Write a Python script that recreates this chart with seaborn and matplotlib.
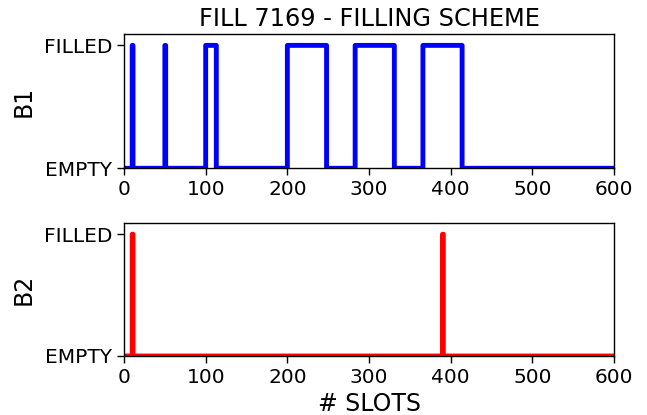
import numpy as np
import matplotlib
matplotlib.use("Agg")
import matplotlib.pyplot as plt
import seaborn as sns

# filling scheme: train start slot and number of bunches
N_SLOTS = 600
B1_TRAIN_START = [10, 50, 100, 200, 283, 366]
B1_TRAIN_LEN = [1, 1, 13, 48, 48, 48]
B2_TRAIN_START = [10, 390]
B2_TRAIN_LEN = [1, 1]

X_TICKS = [0, 100, 200, 300, 400, 500, 600]
Y_TICKS = [0, 1]
Y_LABELS = ["EMPTY", "FILLED"]


def build_pattern(starts, lengths):
    pattern = np.zeros(N_SLOTS + 1)
    for s, n in zip(starts, lengths):
        pattern[s:s + n] = 1
    return pattern


sns.set_style("ticks")
plt.rcParams["font.family"] = ["DejaVu Sans"]
plt.rcParams["text.color"] = "black"
plt.rcParams["axes.labelcolor"] = "black"

slots = np.arange(N_SLOTS + 1)
b1 = build_pattern(B1_TRAIN_START, B1_TRAIN_LEN)
b2 = build_pattern(B2_TRAIN_START, B2_TRAIN_LEN)

fig = plt.figure(figsize=(6.47, 4.15), dpi=100)
ax1 = fig.add_axes([0.1917, 0.5945, 0.7573, 0.3228])
ax2 = fig.add_axes([0.1917, 0.1422, 0.7573, 0.3198])

for ax, pattern, color, name in [(ax1, b1, "blue", "B1"), (ax2, b2, "red", "B2")]:
    sns.lineplot(x=slots, y=pattern, ax=ax, color=color, linewidth=3.5,
                 drawstyle="steps-post", estimator=None)
    ax.set_xlim(0, N_SLOTS)
    ax.set_ylim(0, 1.09)
    ax.set_xticks(X_TICKS)
    ax.set_yticks(Y_TICKS)
    ax.set_yticklabels(Y_LABELS)
    ax.tick_params(labelsize=14.5, length=5, width=1, colors="black")
    ax.set_ylabel(name, fontsize=17, labelpad=6)
    for sp in ax.spines.values():
        sp.set_color("black")
        sp.set_linewidth(1)

ax1.set_title("FILL 7169 - FILLING SCHEME", fontsize=17.3)
ax2.set_xlabel("# SLOTS", fontsize=17)

fig.savefig("out.png", dpi=100)
